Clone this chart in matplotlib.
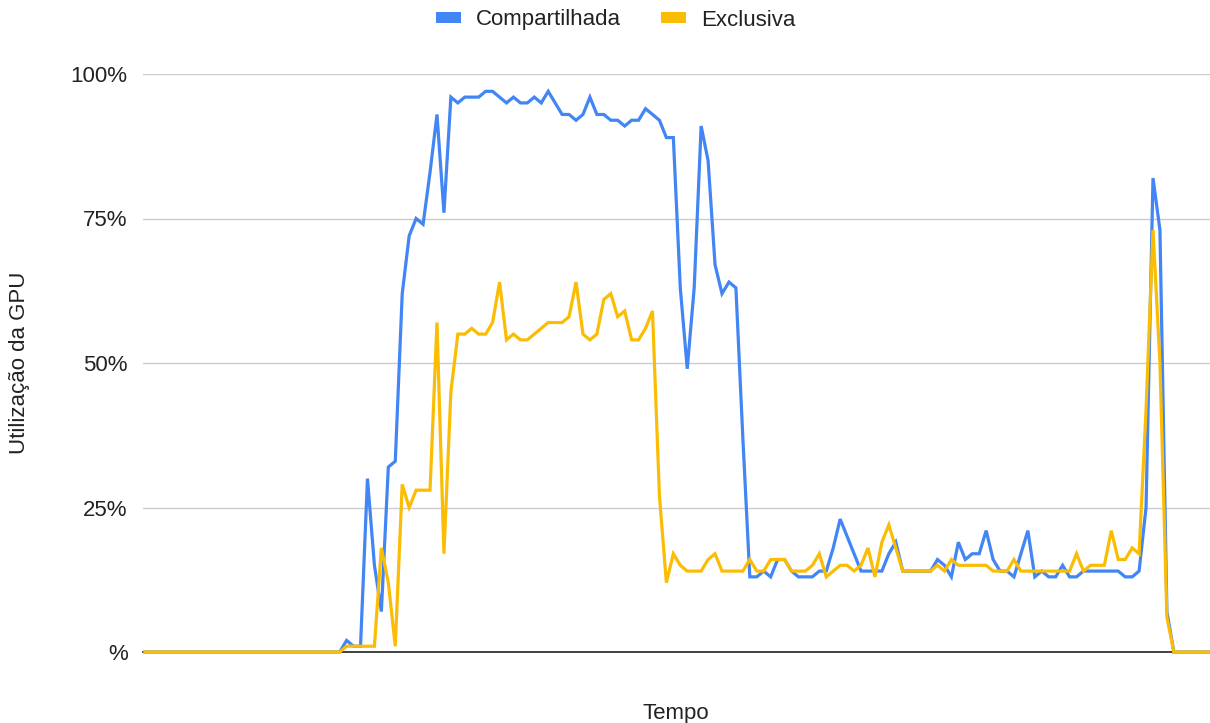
import matplotlib
matplotlib.use("Agg")
import matplotlib.pyplot as plt
from matplotlib.patches import Patch

# %% Data (utilização da GPU em %, um valor por amostra de tempo)
compartilhada = [
    0, 0, 0, 0, 0, 0, 0, 0, 0, 0,
    0, 0, 0, 0, 0, 0, 0, 0, 0, 0,
    0, 0, 0, 0, 0, 0, 0, 0, 0, 2,
    1, 1, 30, 15, 7, 32, 33, 62, 72, 75,
    74, 83, 93, 76, 96, 95, 96, 96, 96, 97,
    97, 96, 95, 96, 95, 95, 96, 95, 97, 95,
    93, 93, 92, 93, 96, 93, 93, 92, 92, 91,
    92, 92, 94, 93, 92, 89, 89, 63, 49, 63,
    91, 85, 67, 62, 64, 63, 37, 13, 13, 14,
    13, 16, 16, 14, 13, 13, 13, 14, 14, 18,
    23, 20, 17, 14, 14, 14, 14, 17, 19, 14,
    14, 14, 14, 14, 16, 15, 13, 19, 16, 17,
    17, 21, 16, 14, 14, 13, 17, 21, 13, 14,
    13, 13, 15, 13, 13, 14, 14, 14, 14, 14,
    14, 13, 13, 14, 25, 82, 73, 7, 0, 0,
    0, 0, 0, 0,
]
exclusiva = [
    0, 0, 0, 0, 0, 0, 0, 0, 0, 0,
    0, 0, 0, 0, 0, 0, 0, 0, 0, 0,
    0, 0, 0, 0, 0, 0, 0, 0, 0, 1,
    1, 1, 1, 1, 18, 12, 1, 29, 25, 28,
    28, 28, 57, 17, 45, 55, 55, 56, 55, 55,
    57, 64, 54, 55, 54, 54, 55, 56, 57, 57,
    57, 58, 64, 55, 54, 55, 61, 62, 58, 59,
    54, 54, 56, 59, 27, 12, 17, 15, 14, 14,
    14, 16, 17, 14, 14, 14, 14, 16, 14, 14,
    16, 16, 16, 14, 14, 14, 15, 17, 13, 14,
    15, 15, 14, 15, 18, 13, 19, 22, 18, 14,
    14, 14, 14, 14, 15, 14, 16, 15, 15, 15,
    15, 15, 14, 14, 14, 16, 14, 14, 14, 14,
    14, 14, 14, 14, 17, 14, 15, 15, 15, 21,
    16, 16, 18, 17, 42, 73, 50, 6, 0, 0,
    0, 0, 0, 0,
]
tempo = list(range(len(compartilhada)))

y_ticks = [0, 25, 50, 75, 100]
y_labels = ["%", "25%", "50%", "75%", "100%"]
series_names = ["Compartilhada", "Exclusiva"]
colors = ["#4285F4", "#FBBC04"]

# %% Plot
plt.rcParams["font.family"] = ["Liberation Sans", "DejaVu Sans"]
text_color = "#222222"

fig = plt.figure(figsize=(12.1, 7.23), dpi=100)
ax = fig.add_axes([143 / 1210, 1 - 652 / 723, 1 - 143 / 1210, (652 - 74) / 723])

ax.plot(tempo, compartilhada, color=colors[0], lw=2.3, zorder=3, clip_on=False,
        solid_joinstyle="miter")
ax.plot(tempo, exclusiva, color=colors[1], lw=2.3, zorder=4, clip_on=False,
        solid_joinstyle="miter")

ax.set_xlim(-0.29, 153.2)
ax.set_ylim(0, 100)
ax.set_yticks(y_ticks)
ax.set_yticklabels(y_labels)
ax.set_xticks([])
ax.tick_params(axis="y", length=0, pad=11, labelsize=16, labelcolor=text_color)
ax.yaxis.grid(True, color="#cccccc", lw=1)
ax.set_axisbelow(True)
ax.axhline(0, color="#333333", lw=1.3, zorder=2, clip_on=False)
for s in ax.spines.values():
    s.set_visible(False)

fig.text(20 / 1210, 1 - 363 / 723, "Utilização da GPU", rotation=90,
         ha="center", va="center", fontsize=16, color=text_color)
fig.text(676 / 1210, 1 - 713 / 723, "Tempo", ha="center", va="center",
         fontsize=16, color=text_color)

handles = [Patch(facecolor=c, edgecolor="none") for c in colors]
fig.legend(handles, series_names, loc="center", bbox_to_anchor=(616 / 1210, 1 - 20 / 723),
           ncol=2, frameon=False, fontsize=16, handlelength=1.1, handleheight=0.4,
           handletextpad=0.7, columnspacing=1.8, labelcolor=text_color)

fig.savefig("out.png", dpi=100)
